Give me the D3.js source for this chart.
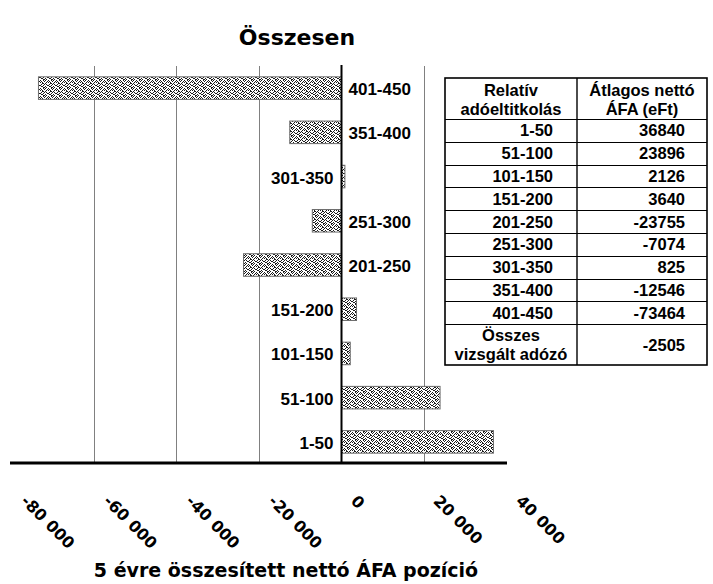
<!DOCTYPE html>
<html>
<head>
<meta charset="utf-8">
<script src="https://cdn.jsdelivr.net/npm/d3@7"></script>
<style>
  html, body { margin: 0; padding: 0; background: #fff; }
  svg { display: block; }
</style>
</head>
<body>
<svg id="chart" width="713" height="584"></svg>
<script>
// Relative tax-evasion groups and the average net VAT position (thousand HUF)
const categories = ["1-50", "51-100", "101-150", "151-200", "201-250", "251-300", "301-350", "351-400", "401-450"];
const values = [36840, 23896, 2126, 3640, -23755, -7074, 825, -12546, -73464];
const totalLabel = ["Összes", "vizsgált adózó"];
const totalValue = -2505;
const tickValues = [-80000, -60000, -40000, -20000, 0, 20000, 40000];
const gridValues = [-60000, -40000, -20000, 20000];
const headerLeft = ["Relatív", "adóeltitkolás"];
const headerRight = ["Átlagos nettó", "ÁFA (eFt)"];
const chartTitle = "Összesen";
const axisTitle = "5 évre összesített nettó ÁFA pozíció";

const data = categories.map((c, i) => ({ cat: c, val: values[i] }));

const svg = d3.select("#chart");

const x = d3.scaleLinear().domain([-80000, 40000]).range([11.5, 506.5]);
const y = d3.scaleBand()
  .domain(categories.slice().reverse())
  .range([66, 464])
  .paddingInner(0.49)
  .paddingOuter(0.245);

// speckled fill used for the bars
const defs = svg.append("defs");
const pat = defs.append("pattern")
  .attr("id", "speckle")
  .attr("patternUnits", "userSpaceOnUse")
  .attr("width", 8).attr("height", 8);
pat.append("rect").attr("width", 8).attr("height", 8).attr("fill", "#fff");
const dots = [
  [1,0,0,1,0,1,0,0],
  [0,1,0,0,1,0,0,1],
  [1,0,1,0,0,0,1,0],
  [0,0,1,1,0,1,0,0],
  [0,1,0,0,1,0,1,0],
  [1,0,0,1,0,0,0,1],
  [0,1,1,0,0,1,0,0],
  [0,0,0,1,1,0,1,0]
];
dots.forEach((row, r) => row.forEach((v, c) => {
  if (v) pat.append("rect").attr("x", c).attr("y", r).attr("width", 1).attr("height", 1).attr("fill", "#1a1a1a");
}));

// title
svg.append("text")
  .attr("x", 297).attr("y", 45)
  .attr("text-anchor", "middle")
  .attr("font-family", "DejaVu Sans")
  .attr("font-weight", "bold")
  .attr("font-size", 22)
  .text(chartTitle);

// vertical gridlines
svg.append("g").selectAll("line").data(gridValues).join("line")
  .attr("x1", d => x(d)).attr("x2", d => x(d))
  .attr("y1", 66).attr("y2", 463)
  .attr("stroke", "#808080").attr("stroke-width", 1)
  .attr("shape-rendering", "crispEdges");

// bars
svg.append("g").selectAll("rect").data(data).join("rect")
  .attr("x", d => x(Math.min(0, d.val)))
  .attr("y", d => y(d.cat))
  .attr("width", d => Math.abs(x(d.val) - x(0)))
  .attr("height", y.bandwidth())
  .attr("fill", "url(#speckle)")
  .attr("stroke", "#6e6e6e")
  .attr("stroke-width", 1);

// zero line
svg.append("line")
  .attr("x1", x(0)).attr("x2", x(0))
  .attr("y1", 65).attr("y2", 463)
  .attr("stroke", "#000").attr("stroke-width", 2);

// category labels on the side opposite the bar
svg.append("g").selectAll("text").data(data).join("text")
  .attr("x", d => d.val < 0 ? x(0) + 7 : x(0) - 8)
  .attr("y", d => y(d.cat) + y.bandwidth() / 2 + 7)
  .attr("text-anchor", d => d.val < 0 ? "start" : "end")
  .attr("font-family", "Liberation Sans, Arial, sans-serif")
  .attr("font-weight", "bold")
  .attr("font-size", 17)
  .text(d => d.cat);

// horizontal axis
const axis = d3.axisBottom(x)
  .tickValues(tickValues)
  .tickSize(0)
  .tickFormat(d => d === 0 ? "0" : d3.format(",")(d).replace(/,/g, " ").replace("−", "-"));
const ag = svg.append("g").attr("transform", "translate(0,463)").call(axis);
ag.select(".domain").attr("stroke", "#000").attr("stroke-width", 3)
  .attr("d", `M${x(-80000) - 1.5},0H${x(40000) + 0.5}`);
ag.selectAll(".tick text")
  .attr("font-family", "DejaVu Sans")
  .attr("font-weight", "bold")
  .attr("font-size", 16)
  .attr("fill", "#000")
  .attr("text-anchor", "start")
  .attr("dy", null)
  .attr("y", 0)
  .attr("transform", "translate(8,39) rotate(45)");

// axis title
svg.append("text")
  .attr("x", 286).attr("y", 577)
  .attr("text-anchor", "middle")
  .attr("font-family", "DejaVu Sans")
  .attr("font-weight", "bold")
  .attr("font-size", 19)
  .text(axisTitle);

// data table
const tx0 = 445, tx1 = 577, tx2 = 707;
const headTop = 78, headBot = 119, rowH = 22.8;
const rowsBottom = headBot + rowH * categories.length;
const tableBot = 365;
const tg = svg.append("g")
  .attr("font-family", "Liberation Sans, Arial, sans-serif")
  .attr("font-weight", "bold")
  .attr("font-size", 16.5);

// row separators
const seps = [headBot].concat(categories.map((c, i) => headBot + rowH * (i + 1)));
tg.selectAll("line.sep").data(seps).join("line")
  .attr("class", "sep")
  .attr("x1", tx0).attr("x2", tx2)
  .attr("y1", d => Math.round(d) + 0.5).attr("y2", d => Math.round(d) + 0.5)
  .attr("stroke", "#000").attr("stroke-width", 1.2);
tg.append("line")
  .attr("x1", tx1).attr("x2", tx1).attr("y1", headTop).attr("y2", tableBot)
  .attr("stroke", "#000").attr("stroke-width", 1.4);
tg.append("rect")
  .attr("x", tx0).attr("y", headTop).attr("width", tx2 - tx0).attr("height", tableBot - headTop)
  .attr("fill", "none").attr("stroke", "#000").attr("stroke-width", 1.6);

// header
tg.selectAll("text.hl").data(headerLeft).join("text")
  .attr("class", "hl")
  .attr("x", (tx0 + tx1) / 2).attr("y", (d, i) => 96 + i * 19)
  .attr("text-anchor", "middle").text(d => d);
tg.selectAll("text.hr").data(headerRight).join("text")
  .attr("class", "hr")
  .attr("x", (tx1 + tx2) / 2).attr("y", (d, i) => 96 + i * 19)
  .attr("text-anchor", "middle").text(d => d);

// body rows
tg.selectAll("text.cl").data(data).join("text")
  .attr("class", "cl")
  .attr("x", 553).attr("y", (d, i) => headBot + rowH * i + rowH / 2 + 6)
  .attr("text-anchor", "end").text(d => d.cat);
tg.selectAll("text.cv").data(data).join("text")
  .attr("class", "cv")
  .attr("x", 685).attr("y", (d, i) => headBot + rowH * i + rowH / 2 + 6)
  .attr("text-anchor", "end").text(d => d.val);

// total row
tg.selectAll("text.tl").data(totalLabel).join("text")
  .attr("class", "tl")
  .attr("x", (tx0 + tx1) / 2).attr("y", (d, i) => rowsBottom + 17 + i * 19)
  .attr("text-anchor", "middle").text(d => d);
tg.append("text")
  .attr("x", 685).attr("y", (rowsBottom + tableBot) / 2 + 6)
  .attr("text-anchor", "end").text(totalValue);
</script>
</body>
</html>
